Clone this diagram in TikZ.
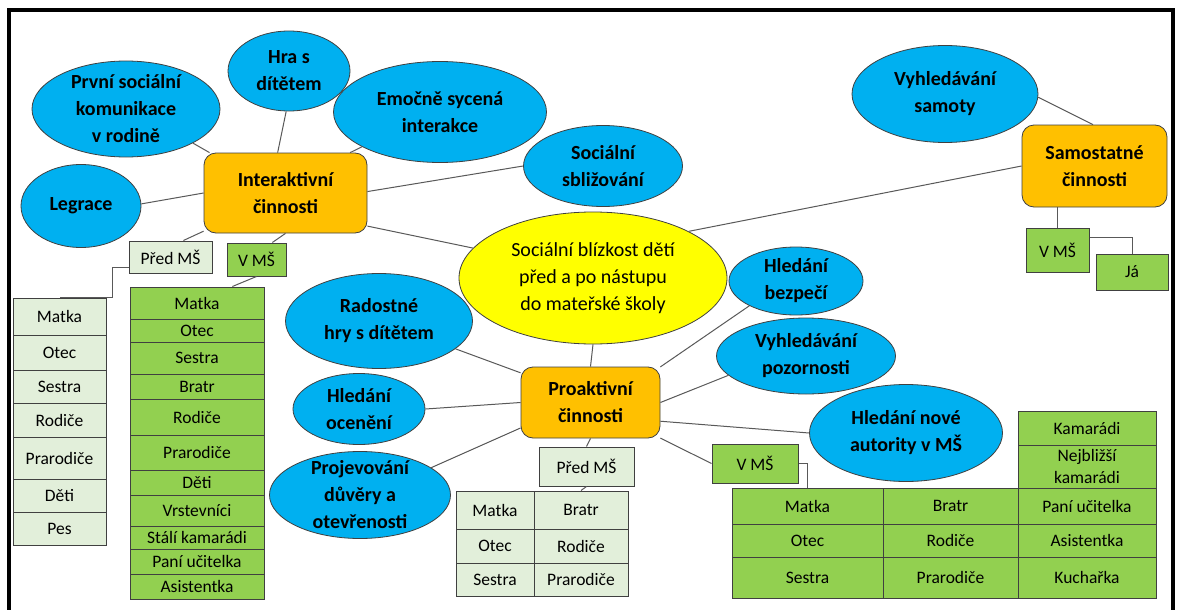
\documentclass[tikz,border=0pt]{standalone}
\usepackage{fontspec}
\setmainfont{Carlito}
\usetikzlibrary{shapes.geometric,calc}
\definecolor{bub}{HTML}{00B0F0}
\definecolor{hubc}{HTML}{FFC000}
\definecolor{corec}{HTML}{FFFF00}
\definecolor{lgr}{HTML}{E2EFDA}
\definecolor{gr}{HTML}{92D050}
\definecolor{edge}{HTML}{404040}
\definecolor{lnk}{HTML}{595959}
\newcommand\cellat[6]{\node[#1, minimum width=#2pt, minimum height=#3pt] (#4) at #5 {#6};}
\begin{document}
\begin{tikzpicture}[x=1pt,y=-1pt,
  bubble/.style={ellipse, draw=edge, fill=bub, line width=0.8pt, inner sep=0pt},
  btext/.style={align=center, font=\fontsize{20}{27}\selectfont\bfseries, inner sep=0pt},
  hub/.style={rectangle, rounded corners=12pt, draw=edge, fill=hubc, line width=0.8pt, inner sep=0pt, align=center, font=\fontsize{20}{27}\selectfont\bfseries},
  core/.style={ellipse, draw=edge, fill=corec, line width=0.8pt, inner sep=0pt},
  ctext/.style={align=center, font=\fontsize{20}{27}\selectfont, inner sep=0pt},
  cell/.style={rectangle, draw=edge, line width=1pt, inner sep=0pt, align=center, font=\fontsize{17.5}{22}\selectfont},
  cl/.style={cell, fill=lgr},
  cg/.style={cell, fill=gr},
  link/.style={draw=lnk, line width=1pt}]
\useasboundingbox (0,0) rectangle (1178,610);
\fill[white] (0,0) rectangle (1178,610);
\draw[line width=4pt, line join=miter] (9,612) -- (9,10) -- (1173,10) -- (1173,612);

% central
\node[core, minimum width=268pt, minimum height=132pt] (cen) at (593,278) {};
\node[ctext] (cen-t) at (593,278) {Sociální blízkost dětí\\před a po nástupu\\do mateřské školy};

% hubs
\node[hub, minimum width=163pt, minimum height=80pt] (int) at (285.5,193) {Interaktivní\\činnosti};
\node[hub, minimum width=145pt, minimum height=82pt] (sam) at (1094.5,166) {Samostatné\\činnosti};
\node[hub, minimum width=139pt, minimum height=71pt] (pro) at (590.5,402.5) {Proaktivní\\činnosti};

% bubbles
\node[bubble, minimum width=188pt, minimum height=96pt] (prvni) at (126,109) {};
\node[btext] (prvni-t) at (126,109) {První sociální\\komunikace\\v rodině};
\node[bubble, minimum width=122pt, minimum height=80pt] (hra) at (289,71) {};
\node[btext] (hra-t) at (289,71) {Hra s\\dítětem};
\node[bubble, minimum width=213pt, minimum height=101pt] (emoc) at (440,112) {};
\node[btext] (emoc-t) at (440,112) {Emočně sycená\\interakce};
\node[bubble, minimum width=120pt, minimum height=83pt] (legrace) at (81,206) {};
\node[btext] (legrace-t) at (81,206) {Legrace};
\node[bubble, minimum width=159pt, minimum height=81pt] (sbliz) at (603,166) {};
\node[btext] (sbliz-t) at (603,166) {Sociální\\sbližování};
\node[bubble, minimum width=186pt, minimum height=97pt] (samoty) at (945,94) {};
\node[btext] (samoty-t) at (945,94) {Vyhledávání\\samoty};
\node[bubble, minimum width=134pt, minimum height=68pt] (bezpeci) at (796,281) {};
\node[btext] (bezpeci-t) at (796,281) {Hledání\\bezpečí};
\node[bubble, minimum width=179pt, minimum height=76pt] (pozor) at (806,356) {};
\node[btext] (pozor-t) at (806,356) {Vyhledávání\\pozornosti};
\node[bubble, minimum width=193pt, minimum height=97pt] (autor) at (906,433) {};
\node[btext] (autor-t) at (906,433) {Hledání nové\\autority v MŠ};
\node[bubble, minimum width=187pt, minimum height=95pt] (radost) at (379,321) {};
\node[btext] (radost-t) at (379,321) {Radostné\\hry s dítětem};
\node[bubble, minimum width=132pt, minimum height=71pt] (ocen) at (359,409) {};
\node[btext] (ocen-t) at (359,409) {Hledání\\ocenění};
\node[bubble, minimum width=181pt, minimum height=87pt] (projev) at (360,495) {};
\node[btext] (projev-t) at (360,495) {Projevování\\důvěry a\\otevřenosti};

% small boxes
\cellat{cl}{83}{32}{predms1}{(170.5,257)}{Před MŠ}
\cellat{cg}{59}{33}{vms1}{(256.5,259.5)}{V MŠ}
\cellat{cl}{95}{39}{predms2}{(586.5,466.5)}{Před MŠ}
\cellat{cg}{86}{39}{vms2}{(755,463.5)}{V MŠ}
\cellat{cg}{63}{44}{vms3}{(1057.5,250)}{V MŠ}
\cellat{cg}{72}{36}{ja}{(1132,272)}{Já}

% left list
\cellat{cl}{93}{37}{l1}{(59.5,316.5)}{Matka}
\cellat{cl}{93}{35}{l2}{(59.5,352.5)}{Otec}
\cellat{cl}{93}{33}{l3}{(59.5,386.5)}{Sestra}
\cellat{cl}{93}{34}{l4}{(59.5,420)}{Rodiče}
\cellat{cl}{93}{42}{l5}{(59.5,458)}{Prarodiče}
\cellat{cl}{93}{33}{l6}{(59.5,495.5)}{Děti}
\cellat{cl}{93}{33}{l7}{(59.5,528.5)}{Pes}

% middle list
\cellat{cg}{134}{32}{m1}{(197,303)}{Matka}
\cellat{cg}{134}{23}{m2}{(197,330.5)}{Otec}
\cellat{cg}{134}{32}{m3}{(197,358)}{Sestra}
\cellat{cg}{134}{25}{m4}{(197,386.5)}{Bratr}
\cellat{cg}{134}{36}{m5}{(197,417)}{Rodiče}
\cellat{cg}{134}{35}{m6}{(197,452.5)}{Prarodiče}
\cellat{cg}{134}{25}{m7}{(197,482.5)}{Děti}
\cellat{cg}{134}{31}{m8}{(197,510.5)}{Vrstevníci}
\cellat{cg}{134}{23}{m9}{(197,537.5)}{Stálí kamarádi}
\cellat{cg}{134}{25}{m10}{(197,561.5)}{Paní učitelka}
\cellat{cg}{134}{25}{m11}{(197,586.5)}{Asistentka}

% middle table
\cellat{cl}{78}{38}{t11}{(495,510)}{Matka}
\cellat{cl}{94}{38}{t12}{(581,510)}{Bratr}
\cellat{cl}{78}{34}{t21}{(495,546)}{Otec}
\cellat{cl}{94}{34}{t22}{(581,546)}{Rodiče}
\cellat{cl}{78}{33}{t31}{(495,579.5)}{Sestra}
\cellat{cl}{94}{33}{t32}{(581,579.5)}{Prarodiče}

% right table
\cellat{cg}{138}{34}{k1}{(1087,428)}{Kamarádi}
\cellat{cg}{138}{43}{k2}{(1087,466.5)}{Nejbližší\\kamarádi}
\cellat{cg}{151}{36}{r11}{(807.5,506)}{Matka}
\cellat{cg}{135}{36}{r12}{(950.5,506)}{Bratr}
\cellat{cg}{138}{36}{r13}{(1087,506)}{Paní učitelka}
\cellat{cg}{151}{33}{r21}{(807.5,540.5)}{Otec}
\cellat{cg}{135}{33}{r22}{(950.5,540.5)}{Rodiče}
\cellat{cg}{138}{33}{r23}{(1087,540.5)}{Asistentka}
\cellat{cg}{151}{41}{r31}{(807.5,577.5)}{Sestra}
\cellat{cg}{135}{41}{r32}{(950.5,577.5)}{Prarodiče}
\cellat{cg}{138}{41}{r33}{(1087,577.5)}{Kuchařka}

% connectors
\draw[link] (int.152) -- (prvni.-27);
\draw[link] (int.101) -- (hra.266);
\draw[link] (int.32) -- (emoc.204);
\draw[link] (int.180) -- (legrace.2);
\draw[link] (int.1) -- (sbliz.180);
\draw[link] (int.-22) -- (cen.166);
\draw[link] (int.205) -- (predms1.52);
\draw[link] (int.south) -- (vms1.47);
\draw[link] (vms1.south) -- (m1.25);
\draw[link] (predms1.194) -- ++(-16,0) |- (l1.north);
\draw[link] (cen.26) -- (sam.180);
\draw[link] (samoty.-2) -- (sam.92);
\draw[link] (vms3.north) -- (vms3.north |- sam.south);
\draw[link] (vms3.22) -| (ja.north);
\draw[link] (cen.south) -- (pro.north);
\draw[link] (pro.27) -- (bezpeci.208);
\draw[link] (pro.0) -- (pozor.194);
\draw[link] (pro.-15) -- (autor.180);
\draw[link] (pro.-27) -- (vms2.180);
\draw[link] (vms2.east) -| (r11.north);
\draw[link] (pro.157) -- (radost.-20);
\draw[link] (pro.180) -- (ocen.0);
\draw[link] (pro.200) -- (projev.21);
\draw[link] (pro.south) -- (predms2.north);
\draw[link] (predms2.south) -- (t12.north);
\end{tikzpicture}
\end{document}
